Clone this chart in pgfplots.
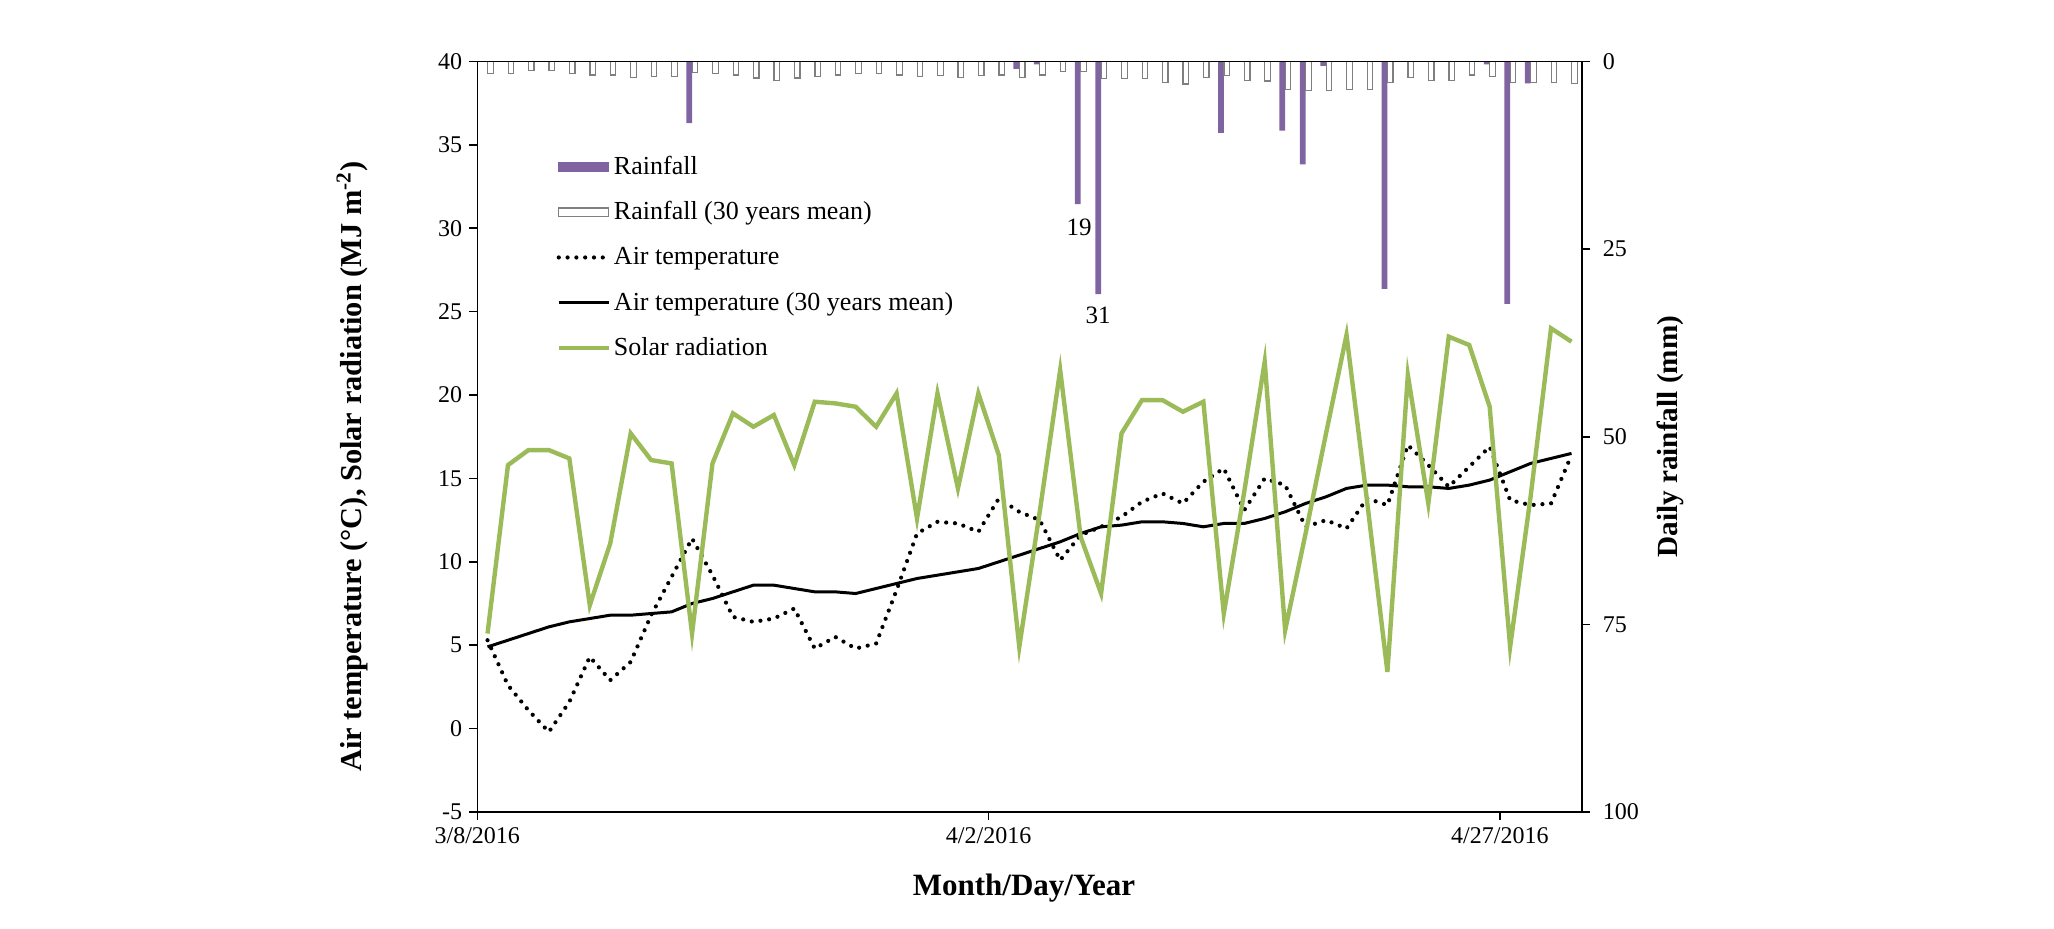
\documentclass[border=0pt]{standalone}
\usepackage{fontspec}
\setmainfont{Liberation Serif}
\usepackage{pgfplots}
\pgfplotsset{compat=1.18}
\usepackage{pgfplotstable}
\definecolor{rainpurple}{HTML}{8064A2}
\definecolor{solargreen}{HTML}{9BBB59}
\definecolor{meanedge}{HTML}{7F7F7F}

% x = day index + 0.5 (0 = 3/8/2016)
\pgfplotstableread{
x rain mean
0.5 0 1.6
1.5 0 1.6
2.5 0 1.2
3.5 0 1.2
4.5 0 1.6
5.5 0 1.8
6.5 0 1.8
7.5 0 2.1
8.5 0 2.0
9.5 0 2.0
10.5 8.2 1.5
11.5 0 1.6
12.5 0 1.8
13.5 0 2.2
14.5 0 2.5
15.5 0 2.2
16.5 0 2.0
17.5 0 1.8
18.5 0 1.6
19.5 0 1.6
20.5 0 1.8
21.5 0 2.0
22.5 0 1.9
23.5 0 2.1
24.5 0 1.9
25.5 0 1.8
26.5 1.0 2.1
27.5 0.4 1.8
28.5 0 1.3
29.5 19 1.3
30.5 31 2.3
31.5 0 2.3
32.5 0 2.3
33.5 0 2.8
34.5 0 3.0
35.5 0 2.1
36.5 9.5 1.9
37.5 0 2.5
38.5 0 2.6
39.5 9.2 3.7
40.5 13.7 3.9
41.5 0.6 3.9
42.5 0 3.7
43.5 0 3.7
44.5 30.3 2.8
45.5 0 2.1
46.5 0 2.5
47.5 0 2.5
48.5 0 1.8
49.5 0.4 2.0
50.5 32.3 2.8
51.5 2.9 2.8
52.5 0 2.8
53.5 0 2.9
}\raintable

\pgfplotstableread{
x solar temp tmean
0.5 5.7 5.3 4.9
1.5 15.8 2.6 5.3
2.5 16.7 1.1 5.7
3.5 16.7 -0.2 6.1
4.5 16.2 1.6 6.4
5.5 7.4 4.3 6.6
6.5 11.1 2.9 6.8
7.5 17.7 4.0 6.8
8.5 16.1 6.8 6.9
9.5 15.9 9.1 7.0
10.5 5.7 11.4 7.5
11.5 15.9 9.2 7.8
12.5 18.9 6.7 8.2
13.5 18.1 6.4 8.6
14.5 18.8 6.6 8.6
15.5 15.8 7.2 8.4
16.5 19.6 4.8 8.2
17.5 19.5 5.5 8.2
18.5 19.3 4.8 8.1
19.5 18.1 5.1 8.4
20.5 20.1 8.3 8.7
21.5 12.6 11.7 9.0
22.5 20.1 12.4 9.2
23.5 14.4 12.3 9.4
24.5 20.1 11.8 9.6
25.5 16.4 13.8 10.0
26.5 4.9 13.0 10.4
27.5 13.0 12.5 10.8
28.5 21.5 10.1 11.2
29.5 11.5 11.6 11.7
30.5 8.1 12.1 12.1
31.5 17.7 12.7 12.2
32.5 19.7 13.6 12.4
33.5 19.7 14.1 12.4
34.5 19.0 13.5 12.3
35.5 19.6 14.8 12.1
36.5 6.9 15.6 12.3
37.5 14.2 13.1 12.3
38.5 22.0 15.0 12.6
39.5 5.9 14.6 13.0
40.5 11.7 12.1 13.5
41.5 17.7 12.5 13.9
42.5 23.6 12.0 14.4
43.5 13.7 13.8 14.6
44.5 3.4 13.4 14.6
45.5 21.2 17.0 14.5
46.5 13.5 15.8 14.5
47.5 23.5 14.5 14.4
48.5 23.0 15.7 14.6
49.5 19.3 16.9 14.9
50.5 4.9 13.7 15.4
51.5 13.9 13.4 15.9
52.5 24.0 13.5 16.2
53.5 23.2 16.4 16.5
}\linetable

\pgfplotsset{
  common/.style={
    at={(238.65pt,58.5pt)}, anchor=south west,
    scale only axis, width=552.2pt, height=375.25pt,
    xmin=0, xmax=54,
    tick align=outside, major tick length=4pt,
    axis line style={line width=0.8pt, black},
    every tick/.style={line width=0.8pt, black},
    tick label style={font=\fontsize{12}{14}\selectfont},
    /pgf/number format/assume math mode=true,
    label style={font=\bfseries\fontsize{14.6}{17}\selectfont},
  },
  linelegend/.style={legend image code/.code={\draw[##1] (0pt,0pt) -- (25pt,0pt);}},
  rainlegend/.style={legend image code/.code={\fill[rainpurple] (0pt,-2.2pt) rectangle (25pt,2.2pt);}},
  meanlegend/.style={legend image code/.code={\draw[meanedge, fill=white, line width=0.6pt] (0pt,-2.2pt) rectangle (25pt,2.2pt);}},
}

\begin{document}
\begin{tikzpicture}
\path[use as bounding box] (0,0) rectangle (1027pt,464.5pt);

% rainfall axis (right)
\begin{axis}[common,
  ymin=0, ymax=100, y dir=reverse,
  axis x line=none,
  axis y line*=right,
  ytick={0,25,50,75,100},
  yticklabel style={anchor=west, xshift=3pt},
  ylabel={Daily rainfall (mm)},
  ylabel style={at={(axis description cs:1.080,0.5)}, anchor=center, rotate=0},
]
\addplot[ybar, bar width=2.9pt, bar shift=-1.45pt, fill=rainpurple, draw=none] table[x=x, y=rain]{\raintable};
\addplot[ybar, bar width=2.75pt, bar shift=1.45pt, fill=white, draw=meanedge, line width=0.6pt] table[x=x, y=mean]{\raintable};
\node[anchor=north, inner sep=0pt, yshift=-7pt, font=\fontsize{12.5}{14}\selectfont] at (axis cs:29.43,19) {19};
\node[anchor=north, inner sep=0pt, yshift=-6pt, font=\fontsize{12.5}{14}\selectfont] at (axis cs:30.35,31) {31};
\end{axis}

% temperature / solar axis (left)
\begin{axis}[common,
  ymin=-5, ymax=40,
  ytick={-5,0,5,10,15,20,25,30,35,40},
  xtick={0,25,50},
  xticklabels={3/8/2016,4/2/2016,4/27/2016},
  xtick pos=bottom, ytick pos=left,
  xlabel={Month/Day/Year},
  xlabel style={at={(axis description cs:0.495,-0.1013)}, anchor=center, font=\bfseries\fontsize{15.5}{18}\selectfont},
  ylabel={Air temperature (°C), Solar radiation (MJ m\textsuperscript{-2})},
  ylabel style={at={(axis description cs:-0.1134,0.46)}, anchor=center, font=\bfseries\fontsize{15.2}{18}\selectfont},
  legend style={at={(0.066,0.884)}, anchor=north west, draw=none, fill=none,
    font=\fontsize{13}{15}\selectfont, row sep=9.2pt,
    nodes={inner sep=1.5pt}},
  legend cell align=left,
]
\addlegendimage{rainlegend}
\addlegendentry{Rainfall}
\addlegendimage{meanlegend}
\addlegendentry{Rainfall (30 years mean)}
\addplot[black, line width=2.1pt, line cap=round, dash pattern=on 0pt off 4.4pt, linelegend] table[x=x, y=temp]{\linetable};
\addlegendentry{Air temperature}
\addplot[black, line width=1.5pt, linelegend] table[x=x, y=tmean]{\linetable};
\addlegendentry{Air temperature (30 years mean)}
\addplot[solargreen, line width=2.2pt, linelegend] table[x=x, y=solar]{\linetable};
\addlegendentry{Solar radiation}
\end{axis}
\end{tikzpicture}
\end{document}
